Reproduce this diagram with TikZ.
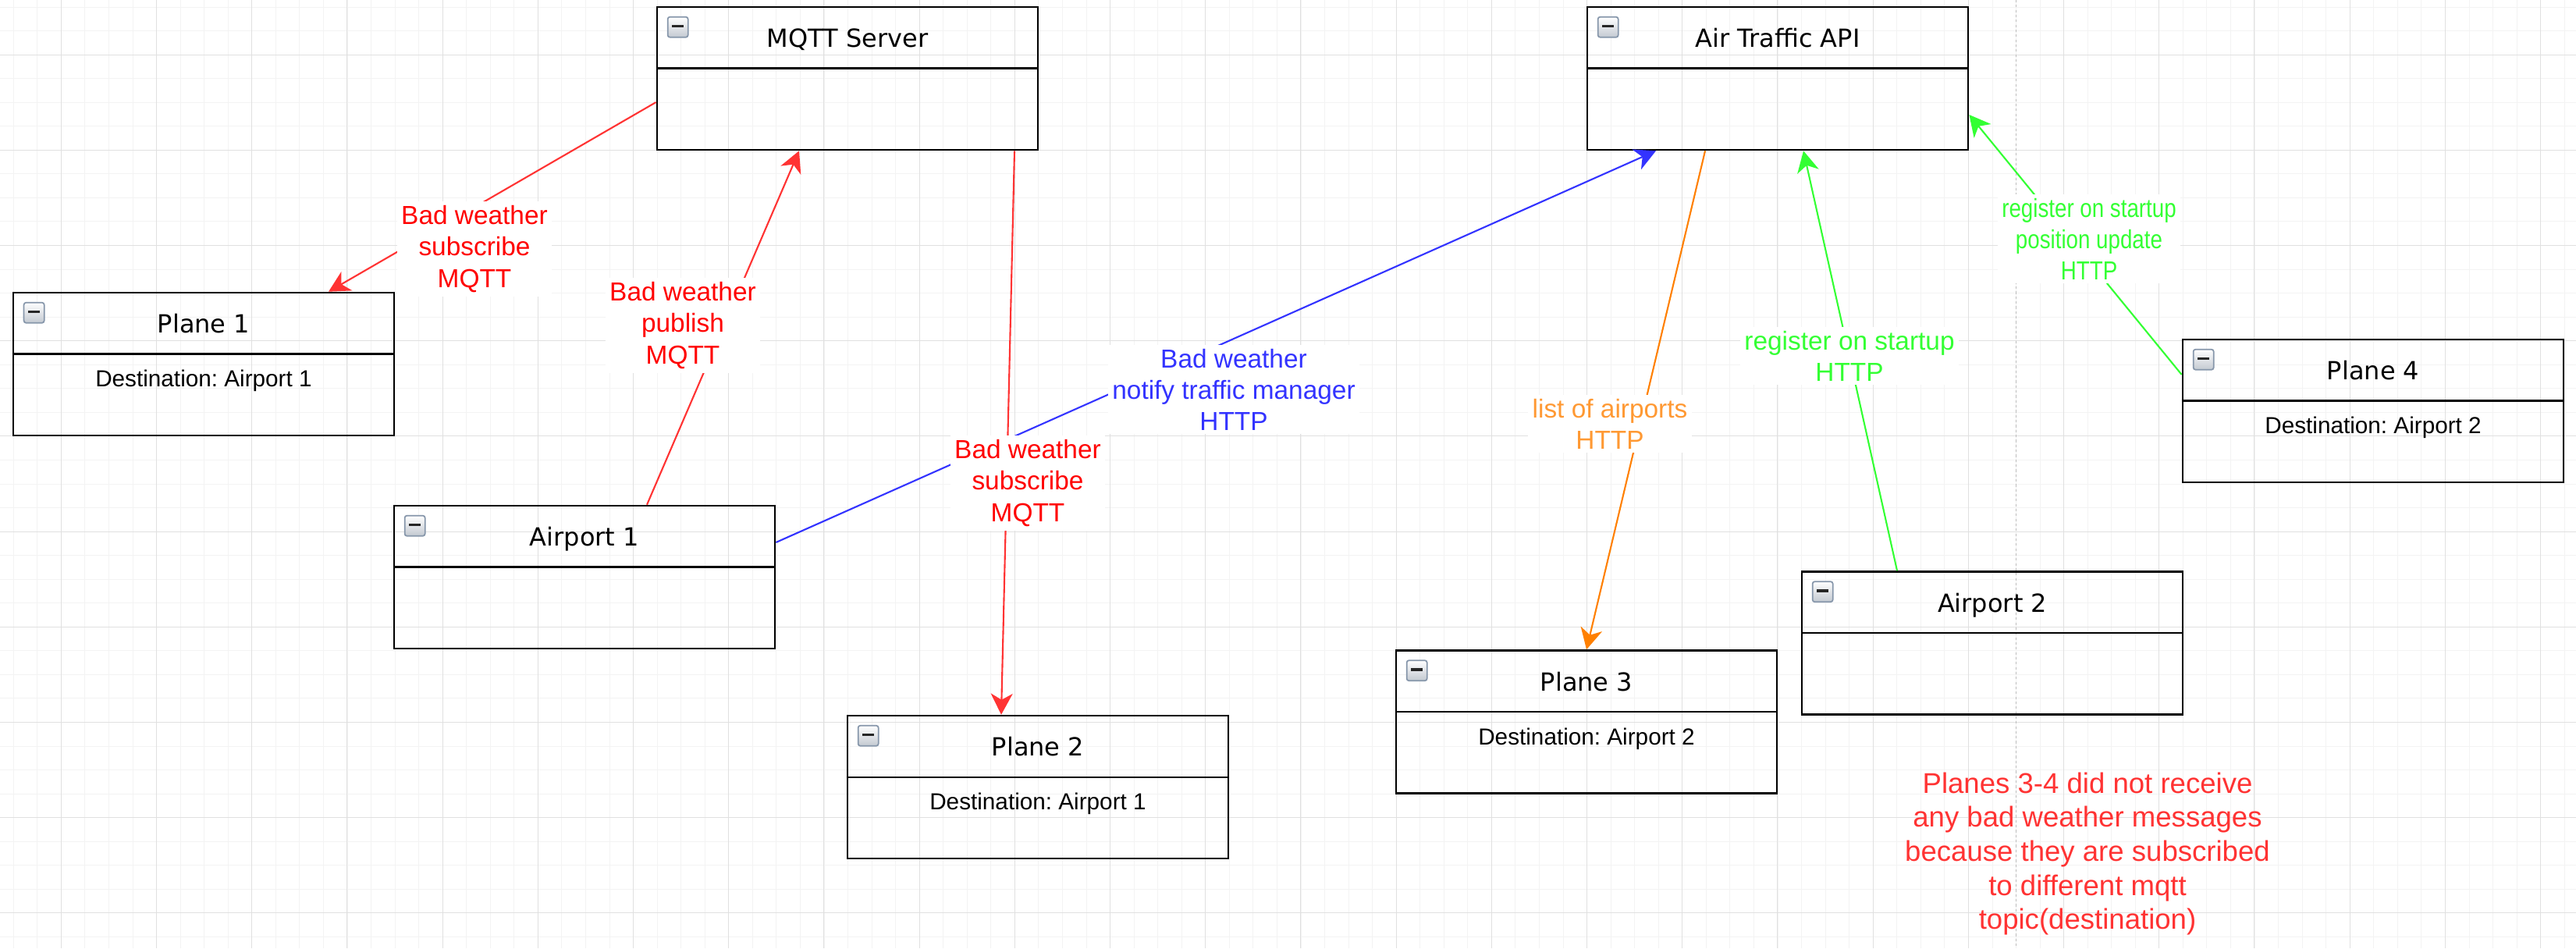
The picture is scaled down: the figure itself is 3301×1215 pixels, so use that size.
\documentclass[tikz,border=0pt]{standalone}
\usepackage{fontspec}
\setmainfont{Liberation Sans}
\newfontfamily\boxtitlefont{DejaVu Sans}
\newfontfamily\narrowfont[FakeStretch=0.83]{Liberation Sans}
\usetikzlibrary{arrows.meta,calc}
\definecolor{mqttRed}{HTML}{FF3333}
\definecolor{labelRed}{HTML}{FF0000}
\definecolor{httpBlue}{HTML}{3333FF}
\definecolor{listOrange}{HTML}{FF8000}
\definecolor{listOrangeText}{HTML}{FF9933}
\definecolor{regGreen}{HTML}{33FF33}
\definecolor{gridMajor}{HTML}{E0E0E0}
\definecolor{gridMinor}{HTML}{F3F3F3}
\definecolor{pageBreak}{HTML}{BDBDBD}
\definecolor{btnBorder}{HTML}{8797AB}
\definecolor{btnShade}{HTML}{C3C9D1}
\tikzset{
  >={Stealth[length=2.7mm,width=2.8mm,inset=0.8mm]},
  classbox/.style={rectangle,draw=black,line width=0.7pt,minimum width=4.88cm,minimum height=1.83cm,inner sep=0pt},
  boxtitle/.style={anchor=base,inner sep=0pt,font=\boxtitlefont\fontsize{9.1}{11}\selectfont},
  boxbody/.style={anchor=base,inner sep=0pt,font=\fontsize{8.45}{10}\selectfont},
  collapsebtn/.style={rectangle,rounded corners=0.8pt,draw=btnBorder,line width=0.5pt,top color=white,bottom color=btnShade,minimum size=2.6mm,inner sep=0pt,
    path picture={\draw[line width=1pt,black!85]
      ($(path picture bounding box.west)!0.22!(path picture bounding box.east)+(0,0.3pt)$) --
      ($(path picture bounding box.east)!0.22!(path picture bounding box.west)+(0,0.3pt)$);}},
  edgelabel/.style={fill=white,inner sep=1.5pt,align=center,font=\fontsize{9.5}{11.4}\selectfont},
  notetext/.style={inner sep=0pt,align=center,text=mqttRed,font=\fontsize{10.4}{12.4}\selectfont},
  mqttarrow/.style={->,draw=mqttRed,line width=0.6pt},
  httparrow/.style={->,draw=httpBlue,line width=0.6pt},
  listarrow/.style={->,draw=listOrange,line width=0.6pt},
  regarrow/.style={->,draw=regGreen,line width=0.6pt},
  gridminor/.style={draw=gridMinor,line width=0.28pt},
  gridmajor/.style={draw=gridMajor,line width=0.28pt},
  pagebreak/.style={draw=pageBreak,line width=0.28pt,dash pattern=on 0.9pt off 0.9pt},
}
\frenchspacing
\begin{document}
\begin{tikzpicture}[x=0.01cm,y=-0.01cm]
  \useasboundingbox (0,0) rectangle (3301,1215);
  \fill[white] (0,0) rectangle (3301,1215);

  % canvas grid
  \foreach \i in {0,...,107} {%
    \draw[gridminor] (17.3+30.55*\i,0) -- ++(0,1215);
  }
  \foreach \j in {0,...,39} {%
    \draw[gridminor] (0,9+30.55*\j) -- ++(3301,0);
  }
  \foreach \i in {0,...,26} {%
    \draw[gridmajor] (78.3+122.2*\i,0) -- ++(0,1215);
  }
  \foreach \j in {0,...,9} {%
    \draw[gridmajor] (0,70+122.2*\j) -- ++(3301,0);
  }
  \draw[pagebreak] (2583,0) -- (2583,1215);

  \node[classbox] (mqtt)     at (1086,100.5) {};
  \node[classbox] (api)      at (2278,100.5) {};
  \node[classbox] (plane1)   at (261,466.5)  {};
  \node[classbox] (airport1) at (749,739.5)  {};
  \node[classbox] (plane2)   at (1330,1008.5) {};
  \node[classbox] (plane3)   at (2033,925)   {};
  \node[classbox] (airport2) at (2553,824)   {};
  \node[classbox] (plane4)   at (3041,526.5) {};

  \foreach \b/\t in {mqtt/MQTT Server, api/Air Traffic API, plane1/Plane 1, airport1/Airport 1,
                     plane2/Plane 2, plane3/Plane 3, airport2/Airport 2, plane4/Plane 4} {%
    \draw[line width=0.7pt] ($(\b.north west)+(0,80)$) -- ($(\b.north east)+(0,80)$);
    \node[collapsebtn] (\b-btn) at ($(\b.north west)+(28,27)$) {};
    \node[boxtitle] (\b-title) at ($(\b.north)+(0,53)$) {\t};
  }
  \foreach \b/\d in {plane1/1, plane2/1, plane3/2, plane4/2} {%
    \node[boxbody] (\b-dest) at ($(\b.north)+(0,122)$) {Destination: Airport \d};
  }

  \draw[mqttarrow] ($(mqtt.west)+(0,30.5)$) -- ($(plane1.north)+(160,0)$);
  \draw[mqttarrow] ($(airport1.north)+(80,0)$) -- ($(mqtt.south)+(-62,0)$);
  \draw[mqttarrow] ($(mqtt.south)+(214,0)$) -- ($(plane2.north)+(-47,0)$);
  \draw[httparrow] ($(airport1.east)+(0,-44.5)$) -- ($(api.south)+(-156,0)$);
  \draw[listarrow] ($(api.south)+(-93,0)$) -- (plane3.north);
  \draw[regarrow]  ($(airport2.north)+(-122,0)$) -- ($(api.south)+(33,0)$);
  \draw[regarrow]  ($(plane4.west)+(0,-46.5)$) -- ($(api.east)+(0,46.5)$);

  \node[edgelabel, text=labelRed]       (lblSub1)   at (608,319)  {Bad weather\\subscribe\\MQTT};
  \node[edgelabel, text=labelRed]       (lblPub)    at (875,417)  {Bad weather\\publish\\MQTT};
  \node[edgelabel, text=labelRed]       (lblSub2)   at (1317,619) {Bad weather\\subscribe\\MQTT};
  \node[edgelabel, text=httpBlue]       (lblNotify) at (1581,499) {Bad weather\\notify traffic manager\\HTTP};
  \node[edgelabel, text=listOrangeText] (lblList)   at (2063,543) {list of airports\\HTTP};
  \node[edgelabel, text=regGreen]       (lblReg)    at (2370,456) {register on startup\\HTTP};
  \node[edgelabel, text=regGreen, font=\narrowfont\fontsize{9.5}{11.4}\selectfont]
                                        (lblPos)    at (2677,306) {register on startup\\position update\\HTTP};

  \node[notetext] (note) at (2675,1094) {Planes 3-4 did not receive\\any bad weather messages\\because they are subscribed\\to different mqtt\\topic(destination)};
\end{tikzpicture}
\end{document}
